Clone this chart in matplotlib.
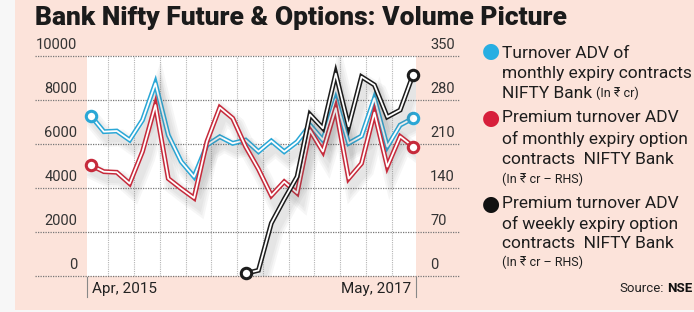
import numpy as np
import matplotlib.pyplot as plt
import matplotlib.patheffects as pe
from matplotlib.patches import Rectangle

plt.rcParams['font.family'] = ['Roboto', 'DejaVu Sans']

# monthly points, Apr 2015 .. May 2017
months = np.arange(26)
turnover = [7270, 6560, 6590, 6180, 7090, 8760, 6400, 5200, 4510, 5950,
            6330, 6030, 6180, 5650, 6140, 5650, 6100, 6860, 6180, 8030,
            6030, 6360, 8080, 5880, 6860, 7170]
premium_monthly = [176, 166, 165, 147, 198, 272, 155, 139, 124, 214,
                   268, 251, 206, 170, 128, 150, 132, 232, 198, 267,
                   155, 179, 260, 174, 222, 206]
premium_weekly = [np.nan] * 12 + [4, 9, 84, 122, 158, 257, 235, 322,
                                  238, 317, 304, 253, 264, 320]
left_ticks = [0, 2000, 4000, 6000, 8000, 10000]
right_ticks = [0, 70, 140, 210, 280, 350]
x_labels = ['Apr, 2015', 'May, 2017']

W, H = 694, 312
PINK = '#fce3da'
fig = plt.figure(figsize=(W / 100, H / 100), dpi=100, facecolor=PINK)

def px(x, y):
    return x / W, 1 - y / H

# light margins left and bottom of the pink panel
fig.patches.append(Rectangle((0, 0), 15 / W, 1, transform=fig.transFigure,
                             facecolor='#f7f7f7', edgecolor='none', zorder=-5))
fig.patches.append(Rectangle((0, 0), 1, 2 / H, transform=fig.transFigure,
                             facecolor='#f7f7f7', edgecolor='none', zorder=-5))
rect = [87 / W, 36 / H, 329 / W, 220 / H]

fig.text(*px(35, 18), 'Bank Nifty Future & Options: Volume Picture',
         fontsize=19, fontweight='heavy', color='#1b1b1b', va='center', ha='left')

ax = fig.add_axes(rect)
ax.set_facecolor('white')
ax.set_xlim(-0.31, 25.23)
ax.set_ylim(0, 10000)
for s in ax.spines.values():
    s.set_visible(False)
ax.set_yticks([])
ax.set_xticks(np.arange(1.35, 25, 2))
ax.tick_params(axis='x', length=0, labelbottom=False)
ax.grid(axis='x', color='#b5b5b5', linestyle=(0, (1, 1)), linewidth=0.8)

ytr = ax.get_yaxis_transform()
ax.hlines(left_ticks, -0.158, 1.134, transform=ytr, colors='#777777',
          linestyles=(0, (1, 1)), linewidth=0.9, clip_on=False, zorder=1)
for lv, rv in zip(left_ticks, right_ticks):
    ax.annotate(str(lv), (-0.03, lv), xycoords=ytr, xytext=(0, 8),
                textcoords='offset points', ha='right', va='center',
                fontsize=10.5, color='#333333', annotation_clip=False)
    ax.annotate(str(rv), (1.043, lv), xycoords=ytr, xytext=(0, 8),
                textcoords='offset points', ha='left', va='center',
                fontsize=10.5, color='#333333', annotation_clip=False)

ax.text(0.015, -0.06, x_labels[0], transform=ax.transAxes, ha='left',
        va='center', fontsize=11, color='#222222')
ax.text(0.985, -0.06, x_labels[1], transform=ax.transAxes, ha='right',
        va='center', fontsize=11, color='#222222')
for xa in (0, 1):
    ax.plot([xa, xa], [-0.005, -0.095], transform=ax.transAxes, color='#888888',
            linewidth=0.8, clip_on=False)

# right-hand scale on its own overlaid axes
ax2 = fig.add_axes(rect)
ax2.set_xlim(ax.get_xlim())
ax2.set_ylim(0, 350)
ax2.axis('off')

shadow = [pe.SimpleLineShadow(offset=(3, -5), shadow_color='#666666',
                              alpha=0.06, linewidth=w) for w in (12, 9, 6)]
shadow.append(pe.Normal())

def tube(a, y, color, z):
    a.plot(months, y, color=color, linewidth=3.5, solid_joinstyle='miter',
           path_effects=shadow, zorder=z)
    a.plot(months, y, color='white', linewidth=1.3, zorder=z + 0.1)
    ok = [i for i, v in enumerate(y) if not np.isnan(v)]
    for i in (ok[0], ok[-1]):
        a.plot(months[i], y[i], 'o', ms=7.5, mfc='white', mec=color, mew=2.2,
               zorder=z + 0.2, clip_on=False)

tube(ax, turnover, '#2aa7d6', 3)
tube(ax2, premium_monthly, '#c62a3b', 4)
tube(ax2, premium_weekly, '#1c1c1c', 5)

# legend
for y, c in [(51, '#28aee2'), (118, '#d71f3b'), (204, '#111111')]:
    fig.text(*px(491, y), '●', fontsize=15, color=c, ha='center', va='center',
             family='DejaVu Sans')

lines = [
    (53, 'Turnover ADV of', 12.5),
    (73, 'monthly expiry contracts', 12.5),
    (93, 'NIFTY Bank', 12.5),
    (118, 'Premium turnover ADV', 12.5),
    (139, 'of monthly expiry option', 12.5),
    (160, 'contracts  NIFTY Bank', 12.5),
    (179, '(In ₹ cr – RHS)', 9),
    (204, 'Premium turnover ADV', 12.5),
    (224, 'of weekly expiry option', 12.5),
    (243, 'contracts  NIFTY Bank', 12.5),
    (262, '(In ₹ cr – RHS)', 9),
]
fig.canvas.draw()
rend = fig.canvas.get_renderer()
for y, t, fs in lines:
    txt = fig.text(*px(502, y), t, fontsize=fs, color='#1e1e1e', va='center', ha='left')
    if t == 'NIFTY Bank':
        bb = txt.get_window_extent(renderer=rend)
        fig.text((bb.x1 + 4) / W, 1 - y / H, '(In ₹ cr)', fontsize=9,
                 color='#1e1e1e', va='center', ha='left')

nse = fig.text(*px(692, 288), 'NSE', fontsize=9.5, fontweight='bold',
               color='#111111', va='center', ha='right')
bb = nse.get_window_extent(renderer=rend)
fig.text((bb.x0 - 3) / W, 1 - 288 / H, 'Source:', fontsize=9.5, color='#222222',
         va='center', ha='right')

fig.savefig('out.png', dpi=100, facecolor=PINK)
